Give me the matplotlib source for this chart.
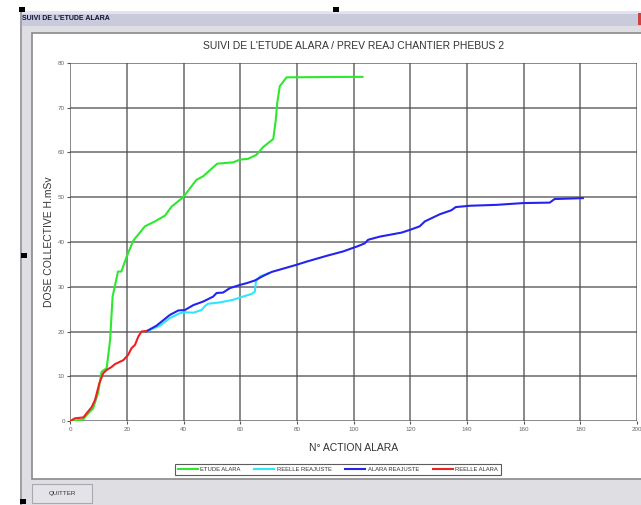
import matplotlib
matplotlib.use("Agg")
import matplotlib.pyplot as plt
from matplotlib.patches import Rectangle

plt.rcParams['font.family'] = ['Liberation Sans', 'DejaVu Sans']

W, H = 641, 505

# ETUDE ALARA (green)
etude_x = [0, 4.4, 6, 8, 9.8, 11, 12.8, 14, 14.9, 16.8, 18, 19.9, 22.2, 26.3, 29.8, 33.4,
           35.7, 39.8, 44.5, 46.9, 51.8, 57.5, 59.8, 62.8, 65.7, 68, 71.6, 72.5, 73,
           73.9, 76.3, 99.8, 103.1]
etude_y = [0, 0.3, 1.5, 2.8, 6.3, 11, 11.8, 18, 27.8, 33.4, 33.4, 36.8, 40.3, 43.5, 44.6, 45.9,
           47.9, 50, 53.9, 54.7, 57.5, 57.8, 58.4, 58.6, 59.5, 61.2, 63, 67.3, 71,
           74.8, 76.8, 76.9, 76.9]

# REELLE REAJUSTE (cyan)
reel_reaj_x = [26.7, 31.6, 35.1, 38.7, 40.4, 43.4, 46.3, 47.5, 48.6, 52.8, 57.5, 60.4, 64,
               65.1, 65.5, 66.9, 69.8]
reel_reaj_y = [20, 21.3, 23, 24.1, 24.3, 24.2, 24.8, 25.7, 26.2, 26.5, 27.1, 27.7, 28.4,
               28.9, 31.2, 32.3, 33]

# ALARA REAJUSTE (blue)
alara_reaj_x = [26.7, 30.4, 35.1, 38.1, 40.4, 43.4, 46.9, 50.4, 51.6, 53.9, 56.3, 59.8, 62.2,
                65.1, 68, 71, 79.8, 83.3, 90.4, 96.3, 101.6, 103.9, 105.1, 109.2, 116.9,
                119.8, 123.3, 125.1, 130.4, 134.5, 136, 141, 150.4, 159.8, 169.2, 170.9,
                180.9]
alara_reaj_y = [20, 21.3, 23.7, 24.7, 24.8, 25.9, 26.7, 27.8, 28.6, 28.7, 29.7, 30.4, 30.8,
                31.4, 32.4, 33.3, 34.9, 35.6, 36.9, 37.9, 39.1, 39.7, 40.5, 41.2, 42.1,
                42.7, 43.5, 44.6, 46.2, 47.1, 47.8, 48.1, 48.3, 48.7, 48.8, 49.6,
                49.8]

# REELLE ALARA (red)
reel_alara_x = [0, 1.6, 4.6, 5.7, 7.5, 8.7, 10.2, 11.6, 12.8, 14.6, 15.7, 18.7, 20.4, 21.6,
                22.8, 24, 25.1, 26.7]
reel_alara_y = [0, 0.6, 0.8, 1.7, 3.1, 4.7, 8.4, 10.7, 11.4, 12.1, 12.7, 13.6, 14.8, 16.3,
                17, 18.9, 20, 20.1]

x_ticks = list(range(0, 201, 20))
y_ticks = list(range(0, 81, 10))


def box(x0, y0, x1, y1, **kw):
    # rectangle in pixel coords, y measured from the top
    fig.add_artist(Rectangle((x0 / W, 1 - y1 / H), (x1 - x0) / W, (y1 - y0) / H,
                             transform=fig.transFigure, zorder=-10, **kw))


fig = plt.figure(figsize=(W / 100, H / 100), dpi=100, facecolor='white')

# window frame
box(20, 11, 641, 505, facecolor='#dfdfe3', edgecolor='none')
box(20, 11, 641, 26, facecolor='#c9cadc', edgecolor='none')
box(20, 11, 641, 14, facecolor='#e2e3ee', edgecolor='none')
box(638, 13, 641, 25, facecolor='#d04040', edgecolor='none')
box(20, 11, 21.5, 505, facecolor='#a0a0a8', edgecolor='none')
box(32, 33, 642, 479, facecolor='white', edgecolor='#8a8a8a', linewidth=1.2)
box(32, 484, 92, 503, facecolor='#e4e4e8', edgecolor='#a8a8ae', linewidth=0.8)
# selection handles
for hx, hy in [(19, 7), (333, 7), (21, 253), (20, 499)]:
    box(hx, hy, hx + 6, hy + 5, facecolor='black', edgecolor='none')

fig.text(22 / W, 1 - 18 / H, "SUIVI DE L'ETUDE ALARA", fontsize=5, fontweight='bold',
         color='#111133', va='center')
fig.text(62 / W, 1 - 494 / H, "QUITTER", fontsize=4.5, color='#333333',
         ha='center', va='center')

ax = fig.add_axes([70.4 / W, 1 - 421 / H, (637 - 70.4) / W, (421 - 63) / H])
ax.patch.set_alpha(0)

ax.plot(etude_x, etude_y, color='#2ee82e', lw=1.5, label='ETUDE ALARA')
ax.plot(reel_reaj_x, reel_reaj_y, color='#30e6ff', lw=1.5, label='REELLE REAJUSTE')
ax.plot(alara_reaj_x, alara_reaj_y, color='#2424ee', lw=1.5, label='ALARA REAJUSTE')
ax.plot(reel_alara_x, reel_alara_y, color='#ee2020', lw=1.5, label='REELLE ALARA')

ax.set_xlim(0, 200)
ax.set_ylim(0, 80)
ax.set_xticks(x_ticks)
ax.set_yticks(y_ticks)
ax.grid(True, color='#505050', lw=1.1, alpha=0.85)
ax.set_axisbelow(True)
for s in ax.spines.values():
    s.set_visible(False)
ax.tick_params(labelsize=4.5, labelcolor='#666666', length=2, width=0.8,
               color='#555555', pad=2)

ax.set_title("SUIVI DE L'ETUDE ALARA / PREV REAJ CHANTIER PHEBUS 2", fontsize=7.5,
             color='#333333', pad=10)
ax.set_xlabel("N° ACTION ALARA", fontsize=7.5, color='#333333', labelpad=8)
ax.set_ylabel("DOSE COLLECTIVE H.mSv", fontsize=7.5, color='#333333', labelpad=3)

leg = ax.legend(loc='upper center', bbox_to_anchor=(338 / W, 1 - 461 / H),
                bbox_transform=fig.transFigure, ncol=4, fontsize=4.2, frameon=True,
                fancybox=False, edgecolor='#333333', handlelength=3.4,
                columnspacing=2.3, borderpad=0.5, handletextpad=0.5)
leg.get_frame().set_linewidth(0.8)
for t in leg.get_texts():
    t.set_color('#333333')

fig.savefig('out.png', dpi=100, facecolor='white')
